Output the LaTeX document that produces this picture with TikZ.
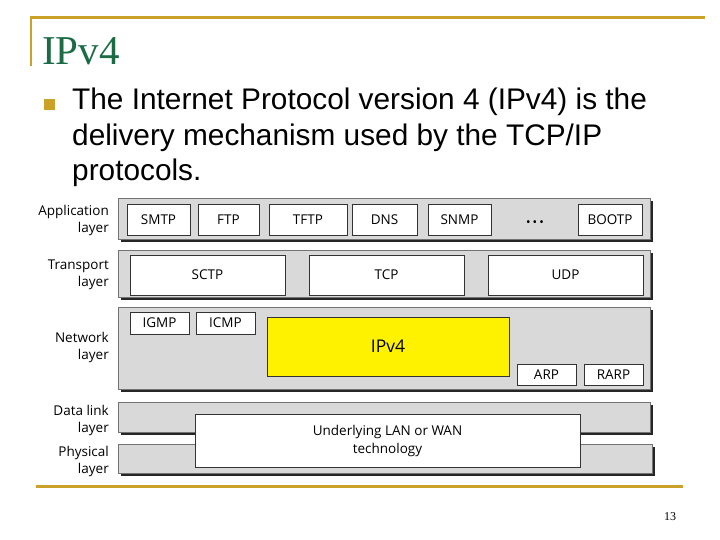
\documentclass[tikz,border=0pt]{standalone}
\usepackage{fontspec}
\setmainfont{Liberation Sans}
\newfontfamily\titlefont{Liberation Serif}
\newfontfamily\figfont{Open Sans}
\usetikzlibrary{shadows}
\definecolor{slidegold}{HTML}{C9A227}
\definecolor{slidegreen}{HTML}{1B6B45}
\definecolor{bandgray}{HTML}{D9D9D9}
\tikzset{
  band/.style={draw=black!55, fill=bandgray, line width=0.6pt, inner sep=0pt,
    drop shadow={shadow xshift=3pt, shadow yshift=-3pt, opacity=1, fill=black!85}},
  proto/.style={draw=black!80, fill=white, line width=0.8pt, inner sep=0pt,
    font=\figfont\fontsize{13.5}{16}\selectfont},
  layerlabel/.style={anchor=east, align=right, inner sep=0pt,
    font=\figfont\fontsize{13.5}{17}\selectfont},
}
\begin{document}
\begin{tikzpicture}[x=1pt, y=-1pt]
\useasboundingbox (0,0) rectangle (720,540);
% slide frame
\draw[slidegold, line width=3pt] (30,18) -- (705,18);
\draw[slidegold, line width=2.5pt] (31,17) -- (31,66);
\draw[slidegold, line width=3pt] (36,486) -- (683,486);
\node[anchor=base west, inner sep=0pt, text=slidegreen, font=\titlefont\fontsize{41}{41}\selectfont] (title) at (42,65) {IPv4};
\fill[slidegold] (44,99) rectangle (55,110);
\node[anchor=base west, inner sep=0pt, align=left, font=\fontsize{29.8}{35.5}\selectfont] (body) at (72,181)
  {The Internet Protocol version 4 (IPv4) is the\\delivery mechanism used by the TCP/IP\\protocols.};
% layer bands
\node[band, minimum width=532pt, minimum height=41pt] (appband) at (384,218.5) {};
\node[band, minimum width=532pt, minimum height=47pt] (trband) at (384,273.5) {};
\node[band, minimum width=532pt, minimum height=82pt] (netband) at (384,348) {};
\node[band, minimum width=532pt, minimum height=30pt] (dlband) at (384,417) {};
\node[band, minimum width=534pt, minimum height=29pt] (phband) at (385,458.5) {};
% application
\foreach \name/\cx/\w in {SMTP/158.5/63, FTP/228.5/61, TFTP/308/78, DNS/384.5/65, SNMP/459.5/63, BOOTP/610/64}
  \node[proto, minimum width=\w pt, minimum height=31pt] (\name) at (\cx,219.5) {\name};
\node[font=\figfont\fontsize{12}{12}\selectfont, inner sep=0pt] (dots) at (535,224) {•\hspace{2pt}•\hspace{2pt}•};
% transport
\node[proto, minimum width=155pt, minimum height=40pt] (SCTP) at (207.5,275) {SCTP};
\node[proto, minimum width=155pt, minimum height=40pt] (TCP) at (386.5,275) {TCP};
\node[proto, minimum width=155pt, minimum height=40pt] (UDP) at (565.5,275) {UDP};
% network
\node[proto, minimum width=59pt, minimum height=22pt] (IGMP) at (159.5,323) {IGMP};
\node[proto, minimum width=59pt, minimum height=22pt] (ICMP) at (225.5,323) {ICMP};
\node[proto, fill=yellow, minimum width=242pt, minimum height=59pt, font=\figfont\fontsize{17.5}{20}\selectfont] (IPv4) at (388,346.5) {IPv4};
\node[proto, minimum width=59pt, minimum height=21pt] (ARP) at (546.5,374.5) {ARP};
\node[proto, minimum width=59pt, minimum height=21pt] (RARP) at (613.5,374.5) {RARP};
% data link + physical
\node[proto, minimum width=385pt, minimum height=53pt, align=center, font=\figfont\fontsize{13.5}{18}\selectfont] (lan) at (387.5,440.5) {Underlying LAN or WAN\\technology};
% layer labels
\node[layerlabel] (applbl) at (109,220) {Application\\layer};
\node[layerlabel] (trlbl) at (109,274.5) {Transport\\layer};
\node[layerlabel] (netlbl) at (109,347) {Network\\layer};
\node[layerlabel] (dllbl) at (109,420) {Data link\\layer};
\node[layerlabel] (phlbl) at (109,461) {Physical\\layer};
% page number
\node[font=\titlefont\fontsize{12}{12}\selectfont, inner sep=0pt] (page) at (670,517) {13};
\end{tikzpicture}
\end{document}
